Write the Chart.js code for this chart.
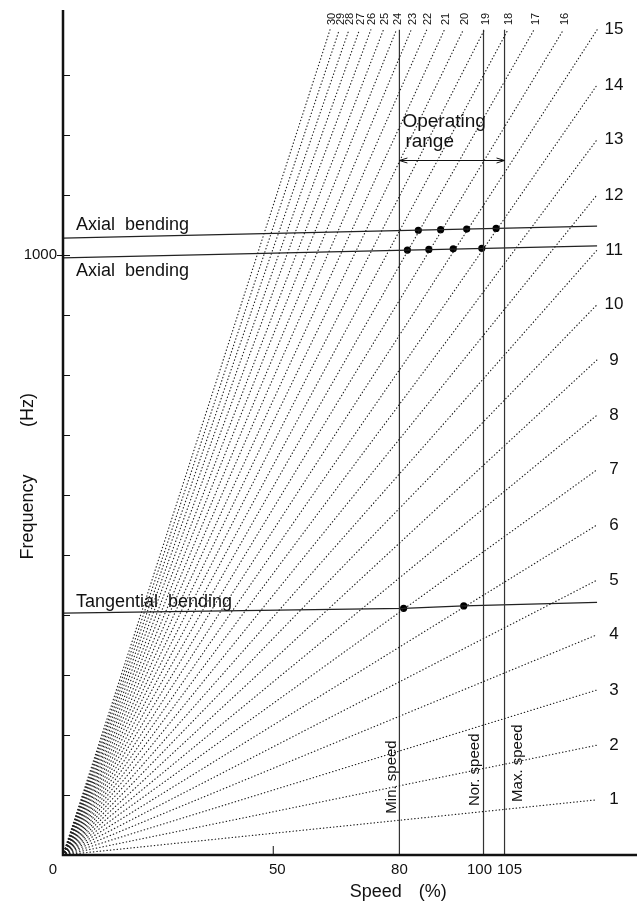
<!DOCTYPE html>
<html>
<head>
<meta charset="utf-8">
<title>Campbell diagram</title>
<script src="https://cdn.jsdelivr.net/npm/chart.js@4.4.1/dist/chart.umd.min.js"></script>
<style>
    body { margin: 0; background: #fff; }
    #campbell-chart { display: block; }
</style>
</head>
<body>
<canvas id="campbell-chart" width="643" height="903"></canvas>
<script>
// Orders (1..30) and where each dotted order line ends (speed %, Hz)
var ordenes = [1, 2, 3, 4, 5, 6, 7, 8, 9, 10, 11, 12, 13, 14, 15,
    16, 17, 18, 19, 20, 21, 22, 23, 24, 25, 26, 27, 28, 29, 30];
var finVelocidad = [127, 127, 127, 127, 127, 127, 127, 127, 127, 127, 127, 127, 127, 127, 127,
    119, 112, 105.8, 100.2, 95.2, 90.7, 86.5, 82.8, 79.3, 76.2, 73.2, 70.5, 68, 65.7, 63.5];
var finFrecuencia = [92, 183, 275, 367, 458, 550, 642, 733, 825, 917, 1008, 1100, 1192, 1283, 1375,
    1375, 1375, 1375, 1375, 1375, 1375, 1375, 1375, 1375, 1375, 1375, 1375, 1375, 1375, 1375];

// Natural frequency curves
var axialSupVelocidad = [0, 127];
var axialSupFrecuencia = [1028, 1048];
var axialInfVelocidad = [0, 127];
var axialInfFrecuencia = [995, 1015];
var tangVelocidad = [0, 81, 95.3, 127];
var tangFrecuencia = [403, 411, 415, 421];

// Resonance points
var puntosVelocidad = [84.5, 89.8, 96, 103, 81.9, 87, 92.8, 99.6, 81, 95.3];
var puntosFrecuencia = [1041, 1042, 1043, 1044, 1008, 1009, 1010, 1011, 411, 415];

// Reference speeds
var velocidadesRef = [80, 100, 105];
var etiquetasRef = ['Min. speed', 'Nor. speed', 'Max. speed'];
var topeRef = 1375;

// Axis ticks
var ticksX = [0, 50, 80, 100, 105];
var ticksY = [100, 200, 300, 400, 500, 600, 700, 800, 900, 1000, 1100, 1200, 1300];
var ticksYEtiqueta = [1000];

function pares(xs, ys) {
    return xs.map(function (v, i) {
        return { x: v, y: ys[i] };
    });
}

var datasets = [];

// dotted order lines
ordenes.forEach(function (n, i) {
    datasets.push({
        data: [{ x: 0, y: 0 }, { x: finVelocidad[i], y: finFrecuencia[i] }],
        showLine: true,
        borderColor: '#222',
        borderWidth: 1.2,
        borderDash: [0.4, 3],
        borderCapStyle: 'round',
        pointRadius: 0,
        clip: false
    });
});

// speed lines
velocidadesRef.forEach(function (v) {
    datasets.push({
        data: [{ x: v, y: 0 }, { x: v, y: topeRef }],
        showLine: true,
        borderColor: '#333',
        borderWidth: 1.2,
        pointRadius: 0,
        clip: false
    });
});

// bending curves
[[axialSupVelocidad, axialSupFrecuencia], [axialInfVelocidad, axialInfFrecuencia], [tangVelocidad, tangFrecuencia]].forEach(function (c) {
    datasets.push({
        data: pares(c[0], c[1]),
        showLine: true,
        borderColor: '#222',
        borderWidth: 1.2,
        pointRadius: 0,
        tension: 0,
        clip: false
    });
});

datasets.push({
    data: pares(puntosVelocidad, puntosFrecuencia),
    showLine: false,
    pointRadius: 3.6,
    pointBackgroundColor: '#000',
    pointBorderWidth: 0,
    clip: false
});

var fuente = '"Liberation Sans", Arial, sans-serif';

var decoracion = {
    id: 'decoracion',
    afterDatasetsDraw: function (chart) {
        var ctx = chart.ctx;
        var sx = chart.scales.x;
        var sy = chart.scales.y;
        var a = chart.chartArea;
        ctx.save();

        // axes
        ctx.strokeStyle = '#111';
        ctx.lineWidth = 2.5;
        ctx.beginPath();
        ctx.moveTo(a.left, a.top);
        ctx.lineTo(a.left, a.bottom);
        ctx.lineTo(a.right, a.bottom);
        ctx.stroke();

        // y ticks
        ctx.lineWidth = 1;
        ticksY.forEach(function (t) {
            var py = Math.round(sy.getPixelForValue(t)) + 0.5;
            ctx.beginPath();
            ctx.moveTo(a.left, py);
            ctx.lineTo(a.left + 7, py);
            if (ticksYEtiqueta.indexOf(t) >= 0) {
                ctx.moveTo(a.left - 6, py);
                ctx.lineTo(a.left, py);
            }
            ctx.stroke();
        });
        var p50 = sx.getPixelForValue(50);
        ctx.beginPath();
        ctx.moveTo(p50, a.bottom);
        ctx.lineTo(p50, a.bottom - 9);
        ctx.stroke();

        ctx.fillStyle = '#111';
        ctx.font = '15px ' + fuente;
        ctx.textBaseline = 'middle';
        ctx.textAlign = 'right';
        ticksYEtiqueta.forEach(function (t) {
            ctx.fillText(String(t), a.left - 6, sy.getPixelForValue(t));
        });
        ctx.textAlign = 'center';
        ctx.textBaseline = 'top';
        ticksX.forEach(function (t) {
            var px = sx.getPixelForValue(t);
            if (t === 0) px -= 10;
            if (t === 50) px += 4;
            if (t === 100) px -= 4;
            if (t === 105) px += 5;
            ctx.fillText(String(t), px, a.bottom + 7);
        });

        // titles
        ctx.font = '18px ' + fuente;
        ctx.textBaseline = 'alphabetic';
        ctx.textAlign = 'left';
        ctx.fillText('Speed', sx.getPixelForValue(68.2), 897);
        ctx.fillText('(%)', sx.getPixelForValue(84.6), 897);
        ctx.save();
        ctx.translate(33, 517);
        ctx.rotate(-Math.PI / 2);
        ctx.textAlign = 'center';
        ctx.fillText('Frequency', 0, 0);
        ctx.fillText('(Hz)', 107, 0);
        ctx.restore();

        // curve names
        ctx.textAlign = 'left';
        ctx.fillText('Axial  bending', a.left + 13, sy.getPixelForValue(1028) - 8);
        ctx.fillText('Axial  bending', a.left + 13, sy.getPixelForValue(995) + 18);
        ctx.fillText('Tangential  bending', a.left + 13, sy.getPixelForValue(403) - 6);

        // operating range
        var yFlecha = Math.round(sy.getPixelForValue(1158)) + 0.5;
        var x1 = sx.getPixelForValue(80);
        var x2 = sx.getPixelForValue(105);
        ctx.font = '19px ' + fuente;
        ctx.fillText('Operating', x1 + 3, yFlecha - 34);
        ctx.fillText('range', x1 + 6, yFlecha - 14);
        ctx.lineWidth = 1;
        ctx.beginPath();
        ctx.moveTo(x1, yFlecha);
        ctx.lineTo(x2, yFlecha);
        ctx.moveTo(x1 + 8, yFlecha - 2.5);
        ctx.lineTo(x1, yFlecha);
        ctx.lineTo(x1 + 8, yFlecha + 2.5);
        ctx.moveTo(x2 - 8, yFlecha - 2.5);
        ctx.lineTo(x2, yFlecha);
        ctx.lineTo(x2 - 8, yFlecha + 2.5);
        ctx.stroke();

        // order labels
        ctx.textAlign = 'center';
        ctx.textBaseline = 'middle';
        ctx.font = '17px ' + fuente;
        ordenes.forEach(function (n, i) {
            if (n <= 15) {
                ctx.fillText(String(n), sx.getPixelForValue(finVelocidad[i]) + 17, sy.getPixelForValue(finFrecuencia[i]));
            }
        });
        ctx.font = '11px ' + fuente;
        ordenes.forEach(function (n, i) {
            if (n > 15) {
                ctx.save();
                ctx.translate(sx.getPixelForValue(finVelocidad[i]) + 1.5, a.top + 9);
                ctx.rotate(-Math.PI / 2);
                ctx.fillText(String(n), 0, 0);
                ctx.restore();
            }
        });

        // speed labels
        ctx.font = '15px ' + fuente;
        var desp = [-8, -9, 13];
        var alto = [130, 142, 153];
        velocidadesRef.forEach(function (v, i) {
            ctx.save();
            ctx.translate(sx.getPixelForValue(v) + desp[i], sy.getPixelForValue(alto[i]));
            ctx.rotate(-Math.PI / 2);
            ctx.fillText(etiquetasRef[i], 0, 0);
            ctx.restore();
        });

        ctx.restore();
    }
};

var ctx = document.getElementById('campbell-chart').getContext('2d');
var grafico = new Chart(ctx, {
    type: 'scatter',
    data: { datasets: datasets },
    options: {
        responsive: false,
        animation: false,
        devicePixelRatio: 1,
        layout: { padding: { left: 63, right: 6, top: 10, bottom: 48 } },
        scales: {
            x: { type: 'linear', min: 0, max: 136.5, display: false },
            y: { type: 'linear', min: 0, max: 1408, display: false }
        },
        plugins: {
            legend: { display: false },
            tooltip: { enabled: false }
        }
    },
    plugins: [decoracion]
});
</script>
</body>
</html>
